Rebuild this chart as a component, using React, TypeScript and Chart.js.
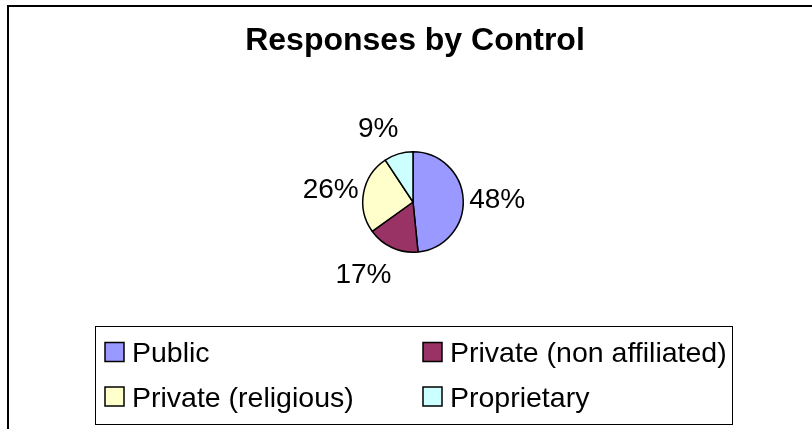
import React, { useEffect, useRef } from "react";
import { Chart, registerables } from "chart.js";

Chart.register(...registerables);

const TITLE = "Responses by Control";
const CATEGORIES = ["Public", "Private (non affiliated)", "Private (religious)", "Proprietary"];
const SHARES = [48.4, 16.7, 25.6, 9.3];
const COLORS = ["#9999FF", "#993366", "#FFFFCC", "#CCFFFF"];

const W = 812;
const H = 429;
const FONT = '"Liberation Sans", Arial, Helvetica, sans-serif';

const decorPlugin = {
  id: "decor",
  beforeDraw(chart: any) {
    const ctx = chart.ctx;
    ctx.save();
    ctx.fillStyle = "#ffffff";
    ctx.fillRect(0, 0, chart.width, chart.height);
    ctx.strokeStyle = "#000000";
    ctx.lineWidth = 2;
    ctx.strokeRect(8, 6, 1000, 1000);
    ctx.restore();
  },
  afterDraw(chart: any) {
    const ctx = chart.ctx;
    ctx.save();
    // Title
    ctx.fillStyle = "#000000";
    ctx.font = `bold 32px ${FONT}`;
    ctx.textAlign = "center";
    ctx.textBaseline = "alphabetic";
    ctx.fillText(TITLE, 415, 50);

    // Data labels
    const data: number[] = chart.data.datasets[0].data;
    const total = data.reduce((a, b) => a + b, 0);
    const meta = chart.getDatasetMeta(0);
    const labelSize = 28;
    const capH = labelSize * 0.716;
    ctx.font = `${labelSize}px ${FONT}`;
    meta.data.forEach((arc: any, i: number) => {
      const p = arc.getProps(["x", "y", "startAngle", "endAngle", "outerRadius"], true);
      const mid = (p.startAngle + p.endAngle) / 2;
      const ux = Math.cos(mid);
      const uy = Math.sin(mid);
      const dist = p.outerRadius + 7;
      const ax = p.x + ux * dist;
      const ay = p.y + uy * dist;
      const capCenter = ay + uy * 21;
      ctx.textAlign = ux >= 0 ? "left" : "right";
      ctx.fillText(Math.round((data[i] / total) * 100) + "%", ax + (ux >= 0 ? -1 : 2), capCenter + capH / 2);
    });

    // Legend
    const lx = 95, ly = 326, lw = 637, lh = 98;
    ctx.strokeStyle = "#000000";
    ctx.lineWidth = 1;
    ctx.strokeRect(lx + 0.5, ly + 0.5, lw, lh);
    const colW = 318;
    const rowH = 44.5;
    const sw = 19;
    const legendSize = 28.5;
    const legendCap = legendSize * 0.716;
    ctx.font = `${legendSize}px ${FONT}`;
    ctx.textAlign = "left";
    const colors: string[] = chart.data.datasets[0].backgroundColor;
    chart.data.labels.forEach((lab: string, i: number) => {
      const col = i % 2;
      const row = Math.floor(i / 2);
      const sx = lx + 10 + col * colW;
      const cy = ly + 26 + row * rowH;
      ctx.fillStyle = colors[i];
      ctx.fillRect(sx, cy - sw / 2, sw, sw);
      ctx.lineWidth = 1.5;
      ctx.strokeStyle = "#000000";
      ctx.strokeRect(sx, cy - sw / 2, sw, sw);
      ctx.fillStyle = "#000000";
      ctx.fillText(lab, sx + sw + 8, cy + legendCap / 2);
    });
    ctx.restore();
  },
};

export default function App() {
  const ref = useRef<HTMLCanvasElement | null>(null);
  useEffect(() => {
    if (!ref.current) return;
    const chart = new Chart(ref.current, {
      type: "pie",
      data: {
        labels: CATEGORIES,
        datasets: [
          {
            data: SHARES,
            backgroundColor: COLORS,
            borderColor: "#000000",
            borderWidth: 1.5,
            hoverOffset: 0,
          },
        ],
      },
      options: {
        responsive: false,
        animation: false,
        events: [],
        layout: { padding: { left: 362, right: 348, top: 151, bottom: 176 } },
        plugins: {
          legend: { display: false },
          tooltip: { enabled: false },
          title: { display: false },
        },
      },
      plugins: [decorPlugin],
    });
    return () => chart.destroy();
  }, []);
  return (
    <div style={{ position: "absolute", left: 0, top: 0, width: W, height: H, overflow: "hidden", background: "#fff" }}>
      <canvas ref={ref} width={W} height={H} style={{ width: W, height: H, display: "block" }} />
    </div>
  );
}
